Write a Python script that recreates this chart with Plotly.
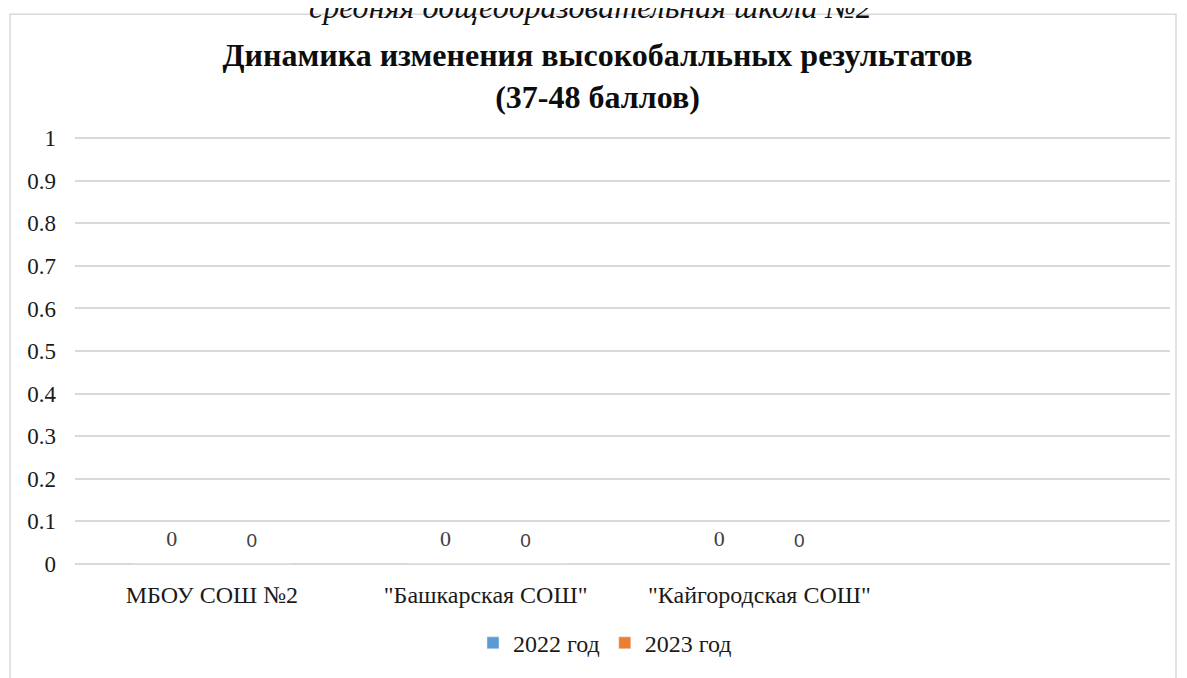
import plotly.graph_objects as go

categories = ["МБОУ СОШ №2", "\"Башкарская СОШ\"", "\"Кайгородская СОШ\"", " "]
values_2022 = [0, 0, 0, None]
values_2023 = [0, 0, 0, None]
series_names = ["2022 год", "2023 год"]
series_colors = ["#5b9bd5", "#ed7d31"]
y_ticks = [0, 0.1, 0.2, 0.3, 0.4, 0.5, 0.6, 0.7, 0.8, 0.9, 1]
y_tick_text = ["0", "0.1", "0.2", "0.3", "0.4", "0.5", "0.6", "0.7", "0.8", "0.9", "1"]

# page body margin offset (8px) compensation
OX, OY = 8, 8
W, H = 1187 - OX, 678 - OY
L, R, T, B = 75 - OX, 17, 136 - OY, 678 - 568
pw, ph = W - L - R, H - T - B


def px_x(x):  # page px -> paper
    return (x - OX - L) / pw


def px_y(y):  # page px -> paper
    return (H - B - (y - OY)) / ph


serif = "Liberation Serif, Times New Roman, serif"
sans = "Liberation Sans, Arial, sans-serif"

fig = go.Figure()
for name, vals, col in zip(series_names, [values_2022, values_2023], series_colors):
    fig.add_trace(go.Bar(x=categories, y=vals, name=name, marker_color=col,
                         hoverinfo="x+y+name"))

label_fonts = [dict(family=serif, size=22, color="#404040"),
               dict(family=sans, size=19, color="#404040")]
for name, vals, lf in zip(series_names, [values_2022, values_2023], label_fonts):
    xs = [c for c, v in zip(categories, vals) if v is not None]
    ys = [v for v in vals if v is not None]
    fig.add_trace(go.Scatter(
        x=xs, y=ys, mode="markers+text", text=[str(v) for v in ys],
        textposition="top center", textfont=lf, cliponaxis=False,
        marker=dict(size=18, opacity=0), showlegend=False, hoverinfo="skip",
        name=name,
    ))

fig.update_layout(
    width=W, height=H,
    margin=dict(l=L, r=R, t=T, b=B),
    paper_bgcolor="white", plot_bgcolor="white",
    barmode="group", bargap=0.415, bargroupgap=0,
    scattermode="group", scattergap=0.415,
    font=dict(family=serif, size=23, color="#1a1a1a"),
    title=dict(
        text="<b>Динамика изменения высокобалльных результатов<br>(37-48 баллов)</b>",
        x=0.5, xanchor="center", y=1 - (66 - OY) / H, yanchor="middle",
        font=dict(family=serif, size=32, color="#0d0d0d"),
    ),
    showlegend=True,
    legend=dict(
        orientation="h", x=px_x(605), xanchor="center",
        y=px_y(648), yanchor="middle",
        font=dict(family=serif, size=24, color="#1a1a1a"),
        itemwidth=30, traceorder="normal",
    ),
    xaxis=dict(
        type="category", categoryorder="array", categoryarray=categories,
        showgrid=False, zeroline=False, showline=False, ticks="",
        tickfont=dict(family=serif, size=24, color="#1a1a1a"),
        ticklabelstandoff=14,
    ),
    yaxis=dict(
        range=[0, 1.005], tickvals=y_ticks, ticktext=y_tick_text,
        showgrid=True, gridcolor="#d9d9d9", gridwidth=1.5,
        zeroline=True, zerolinecolor="#d9d9d9", zerolinewidth=1.5,
        showline=False, ticks="",
        tickfont=dict(family=serif, size=23, color="#1a1a1a"),
        ticklabelstandoff=18,
    ),
)

# chart frame border
fig.add_shape(
    type="rect", xref="paper", yref="paper",
    x0=px_x(10), x1=px_x(1176), y0=px_y(700), y1=px_y(13),
    line=dict(color="#d9d9d9", width=1.5), fillcolor="rgba(0,0,0,0)", layer="below",
)

# cropped caption above the chart
fig.add_annotation(
    text="<i>средняя общеобразовательная школа №2</i>",
    xref="paper", yref="paper", x=px_x(590), y=px_y(26),
    xanchor="center", yanchor="bottom", showarrow=False,
    font=dict(family=serif, size=32, color="#111111"),
)

fig.write_html("out.html")
